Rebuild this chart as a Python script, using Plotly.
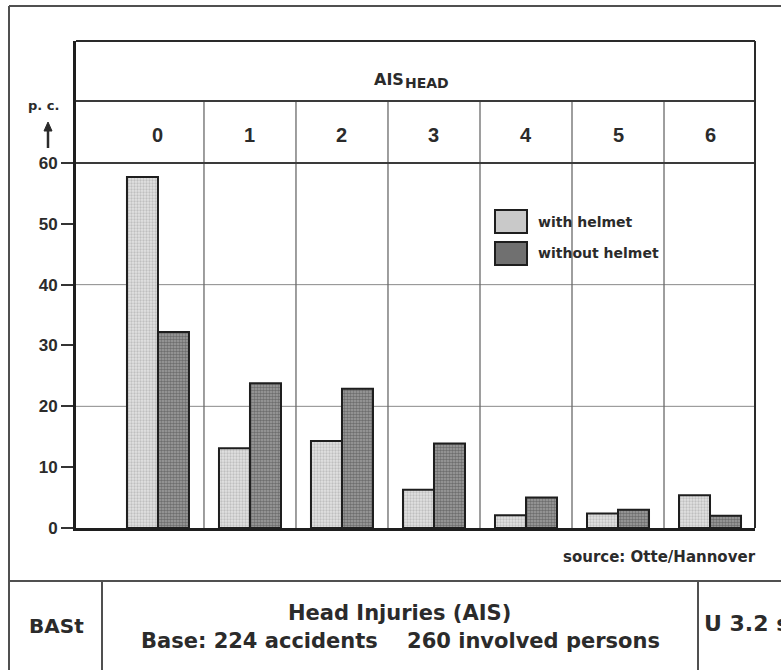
import plotly.graph_objects as go

# ---------------- data ----------------
categories = ["0", "1", "2", "3", "4", "5", "6"]
with_helmet = [57.7, 13.1, 14.3, 6.3, 2.1, 2.4, 5.4]
without_helmet = [32.2, 23.8, 22.9, 13.9, 5.0, 3.0, 2.0]
y_ticks = [0, 10, 20, 30, 40, 50, 60]
grid_values = [20, 40]
series_names = ["with helmet", "without helmet"]
header_main = "AIS"
header_sub = "HEAD"
source_text = "source: Otte/Hannover"
footer_left = "BASt"
footer_title = "Head Injuries (AIS)"
footer_base = "Base: 224 accidents&nbsp;&nbsp;&nbsp;&nbsp;260 involved persons"
footer_right = "U 3.2 s"
unit_label = "p. c."

# ---------------- geometry helpers ----------------
W, H = 781, 670
def px(x):
    return x / W
def py(y):
    return 1 - y / H

NUMFONT = "Liberation Sans, Arial, Helvetica, sans-serif"
FONT = "DejaVu Sans, Liberation Sans, Arial, sans-serif"
TXT = "#2b2b2b"
LIGHT_BG, LIGHT_FG = "#e2e2e2", "#9c9c9c"
DARK_BG, DARK_FG = "#a0a0a0", "#3c3c3c"

x_idx = list(range(len(categories)))
y_top = 80.05          # top of the plot box (header included)
header_line = 70.2     # line between title row and category row

fig = go.Figure()
fig.add_trace(go.Bar(
    x=x_idx, y=with_helmet, name=series_names[0],
    marker=dict(color=LIGHT_BG, line=dict(color="#1e1e1e", width=2),
                pattern=dict(shape=".", bgcolor=LIGHT_BG, fgcolor=LIGHT_FG,
                             size=3, solidity=0.45)),
))
fig.add_trace(go.Bar(
    x=x_idx, y=without_helmet, name=series_names[1],
    marker=dict(color=DARK_BG, line=dict(color="#1e1e1e", width=2),
                pattern=dict(shape=".", bgcolor=DARK_BG, fgcolor=DARK_FG,
                             size=3, solidity=0.55)),
))

shapes = []
for g in grid_values:
    shapes.append(dict(type="line", xref="x domain", yref="y", x0=0, x1=1,
                       y0=g, y1=g, line=dict(color="#8a8a8a", width=1), layer="below"))
for hy in [60, header_line]:
    shapes.append(dict(type="line", xref="x domain", yref="y", x0=0, x1=1,
                       y0=hy, y1=hy, line=dict(color="#3a3a3a", width=2)))
for i in x_idx[:-1]:
    shapes.append(dict(type="line", xref="x", yref="y", x0=i + 0.5, x1=i + 0.5,
                       y0=0, y1=header_line, line=dict(color="#6a6a6a", width=1.3),
                       layer="below"))
shapes.append(dict(type="line", xref="x domain", yref="y domain", x0=0, x1=1,
                   y0=1, y1=1, line=dict(color="#2a2a2a", width=2)))
shapes.append(dict(type="line", xref="x domain", yref="y domain", x0=1, x1=1,
                   y0=0, y1=1, line=dict(color="#2a2a2a", width=2)))
# outer frame
FR = "#505050"
shapes.append(dict(type="line", xref="paper", yref="paper", x0=px(9), x1=px(9),
                   y0=0, y1=py(6), line=dict(color=FR, width=2)))
shapes.append(dict(type="line", xref="paper", yref="paper", x0=px(9), x1=1,
                   y0=py(6), y1=py(6), line=dict(color=FR, width=2)))
# footer
shapes.append(dict(type="line", xref="paper", yref="paper", x0=px(9), x1=1,
                   y0=py(581), y1=py(581), line=dict(color=FR, width=2)))
for vx in [102, 698]:
    shapes.append(dict(type="line", xref="paper", yref="paper", x0=px(vx), x1=px(vx),
                       y0=0, y1=py(581), line=dict(color=FR, width=2)))
# legend swatches
for (y0, y1, col) in [(210, 233, "#c9c9c9"), (242, 265, "#707070")]:
    shapes.append(dict(type="rect", xref="paper", yref="paper", x0=px(495), x1=px(527),
                       y0=py(y1), y1=py(y0), fillcolor=col,
                       line=dict(color="#1e1e1e", width=2)))
# unit arrow
shapes.append(dict(type="line", xref="paper", yref="paper", x0=px(48), x1=px(48),
                   y0=py(148), y1=py(128), line=dict(color=TXT, width=2.5)))
shapes.append(dict(type="path", xref="paper", yref="paper",
                   path=f"M {px(44)} {py(131)} L {px(48)} {py(122)} L {px(52)} {py(131)} Z",
                   fillcolor=TXT, line=dict(color=TXT, width=1)))

ann = []
def text(x, y, s, size, xanchor="center", xref="paper", yref="paper", family=FONT):
    ann.append(dict(x=x, y=y, xref=xref, yref=yref, text=s, showarrow=False,
                    xanchor=xanchor, yanchor="middle", borderpad=0,
                    font=dict(family=family, size=size, color=TXT, weight="bold")))

text(px(405), py(79), header_main, 16, xanchor="right")
text(px(404), py(83), header_sub, 14, xanchor="left")
for i, c in zip(x_idx, categories):
    text(i, 64.6, c, 20, xref="x", yref="y", family=NUMFONT)
text(px(43), py(105), unit_label, 13)
text(px(537), py(222), series_names[0], 14, xanchor="left")
text(px(537), py(253), series_names[1], 14, xanchor="left")
text(px(757), py(557), source_text, 15, xanchor="right")
text(px(56), py(626), footer_left, 20)
text(px(399), py(613), footer_title, 21)
text(px(400), py(641), footer_base, 21)
text(px(703), py(623), footer_right, 22, xanchor="left")

fig.update_layout(
    width=W, height=H, autosize=False,
    margin=dict(l=0, r=0, t=0, b=0, pad=0, autoexpand=False),
    paper_bgcolor="white", plot_bgcolor="white",
    showlegend=False,
    barmode="group", bargap=0.326, bargroupgap=0,
    font=dict(family=FONT, color=TXT, weight="bold"),
    xaxis=dict(domain=[px(76), px(755)], range=[-0.891, 6.489], automargin=False,
               showticklabels=False, showgrid=False, zeroline=False,
               showline=True, linewidth=3, linecolor="#1e1e1e", ticks=""),
    yaxis=dict(domain=[py(528), py(41)], range=[0, y_top], automargin=False,
               tickvals=y_ticks, ticks="outside", ticklen=12, tickwidth=2,
               tickcolor="#333", showgrid=False, zeroline=False,
               showline=True, linewidth=3, linecolor="#1e1e1e",
               tickfont=dict(family=NUMFONT, size=17, color=TXT, weight="bold")),
    shapes=shapes, annotations=ann,
)

fig.write_html(
    "out.html",
    config={"displayModeBar": False},
    post_script="document.body.style.margin='0';document.body.style.overflow='hidden';",
)
